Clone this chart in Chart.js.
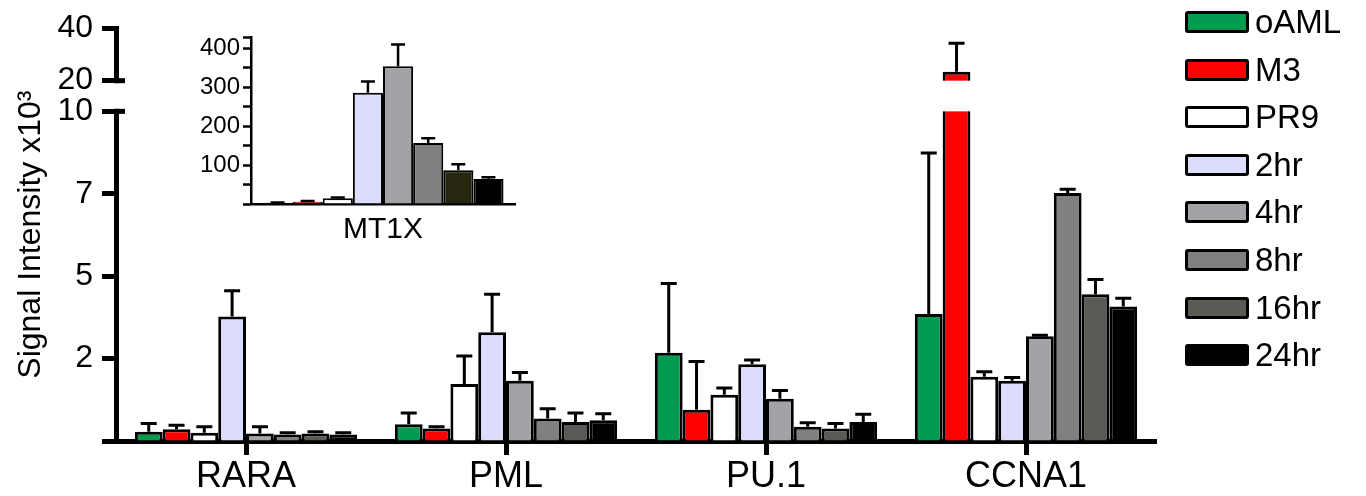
<!DOCTYPE html>
<html>
<head>
<meta charset="utf-8">
<script src="https://cdn.jsdelivr.net/npm/chart.js@4.4.1/dist/chart.umd.min.js"></script>
<style>
body { margin: 0; background: #fff; }
#wrap { position: relative; width: 1366px; height: 496px; overflow: hidden; }
#main { position: absolute; left: 0; top: 0; }
#inset { position: absolute; left: 180px; top: 20px; }
#legend { position: absolute; left: 1185px; top: 0; font-family: "Liberation Sans", Arial, sans-serif; font-size: 33px; color: #000; }
.item { position: absolute; left: 0; height: 44px; display: flex; align-items: center; white-space: nowrap; }
.box { display: inline-block; width: 58px; height: 16px; border: 3px solid #000; border-radius: 3px; margin-right: 6px; }
</style>
</head>
<body>
<div id="wrap">
  <canvas id="main" width="1366" height="496"></canvas>
  <canvas id="inset" width="345" height="240"></canvas>
  <div id="legend"></div>
</div>
<script>
var genes = ["RARA", "PML", "PU.1", "CCNA1"]
var series = ["oAML", "M3", "PR9", "2hr", "4hr", "8hr", "16hr", "24hr"]
var colors = ["#009b4e", "#ff0000", "#ffffff", "#dcdcfb", "#a3a3a7", "#808080", "#5a5b55", "#000000"]
var insetColors = ["#009b4e", "#ff0000", "#ffffff", "#dcdcfb", "#a3a3a7", "#808080", "#27260f", "#000000"]

// signal x10^3, one value per series (oAML .. 24hr)
var rara = [0.28, 0.36, 0.25, 3.78, 0.23, 0.2, 0.23, 0.2]
var rara_err = [0.25, 0.12, 0.18, 0.78, 0.2, 0.05, 0.05, 0.05]
var pml = [0.51, 0.38, 1.73, 3.3, 1.83, 0.68, 0.58, 0.63]
var pml_err = [0.34, 0.05, 0.85, 1.15, 0.25, 0.3, 0.27, 0.2]
var pu1 = [2.68, 0.95, 1.4, 2.33, 1.28, 0.43, 0.38, 0.58]
var pu1_err = [2.1, 1.46, 0.21, 0.13, 0.25, 0.12, 0.15, 0.23]
var ccna1 = [3.85, 23.4, 1.95, 1.83, 3.18, 7.52, 4.45, 4.08]
var ccna1_err = [4.89, 10.9, 0.15, 0.1, 0.03, 0.12, 0.45, 0.25]
// inset
var mt1x = [3, 6, 15, 286, 354, 157, 87, 64]
var mt1x_err = [1, 2, 2, 29, 56, 12, 15, 5]

var tickVals = [0, 2.5, 5, 7.5, 10, 20, 40]
var tickLabels = ["", "2", "5", "7", "10", "20", "40"]
var breakFrom = 10, breakTo = 20
var insetTicks = [0, 50, 100, 150, 200, 250, 300, 350, 400, 428]

var geneVals = [rara, pml, pu1, ccna1]
var geneErrs = [rara_err, pml_err, pu1_err, ccna1_err]

// linear axis with a gap between breakFrom and breakTo
class BrokenScale extends Chart.LinearScale {
  static id = 'broken'
  static defaults = Chart.LinearScale.defaults
  frac(v) {
    var lo = 333, gap = 31, hi = 53, all = lo + gap + hi
    if (v <= breakFrom) return v / breakFrom * lo / all
    if (v <= breakTo) return (lo + (v - breakFrom) / (breakTo - breakFrom) * gap) / all
    return (lo + gap + (v - breakTo) / (this.max - breakTo) * hi) / all
  }
  getPixelForValue(v) {
    return v == null ? NaN : this.getPixelForDecimal(this.frac(v))
  }
  buildTicks() {
    return tickVals.map(v => ({value: v}))
  }
}
Chart.register(BrokenScale)

var errorBars = {
  id: 'errorBars',
  afterDatasetsDraw(chart, args, opts) {
    var ctx = chart.ctx, y = chart.scales.y
    ctx.save()
    ctx.strokeStyle = '#000'
    ctx.lineWidth = opts.width
    chart.data.datasets.forEach((ds, i) => {
      chart.getDatasetMeta(i).data.forEach((bar, j) => {
        var top = y.getPixelForValue(ds.data[j] + ds.errors[j])
        ctx.beginPath()
        ctx.moveTo(bar.x, bar.y)
        ctx.lineTo(bar.x, top)
        ctx.moveTo(bar.x - opts.cap / 2, top)
        ctx.lineTo(bar.x + opts.cap / 2, top)
        ctx.stroke()
      })
    })
    ctx.restore()
  }
}

var axisBreak = {
  id: 'axisBreak',
  afterDatasetsDraw(chart) {
    var ctx = chart.ctx, y = chart.scales.y, ax = chart.chartArea.left
    var pLo = y.getPixelForValue(breakFrom), pHi = y.getPixelForValue(breakTo)
    ctx.save()
    ctx.fillStyle = '#fff'
    ctx.fillRect(ax - 6, pHi + 2.5, 12, pLo - pHi - 5)
    chart.data.datasets.forEach((ds, i) => {
      chart.getDatasetMeta(i).data.forEach((bar, j) => {
        if (ds.data[j] > breakTo) ctx.fillRect(bar.x - bar.width / 2 - 1, pHi, bar.width + 2, pLo - pHi)
      })
    })
    ctx.strokeStyle = '#000'
    ctx.lineWidth = 5
    ;[pLo, pHi].forEach(p => {
      ctx.beginPath()
      ctx.moveTo(ax - 2, p)
      ctx.lineTo(ax + 9, p)
      ctx.stroke()
    })
    ctx.restore()
  }
}

var font = "'Liberation Sans', Arial, sans-serif"

new Chart("main", {
  type: "bar",
  data: {
    labels: genes,
    datasets: series.map((s, i) => ({
      label: s,
      data: geneVals.map(g => g[i]),
      errors: geneErrs.map(g => g[i]),
      backgroundColor: colors[i],
      borderColor: "#000",
      borderWidth: 3,
      categoryPercentage: 0.855,
      barPercentage: 1
    }))
  },
  options: {
    responsive: false,
    animation: false,
    events: [],
    layout: {padding: {top: 24, right: 210, bottom: 0, left: 0}},
    plugins: {
      legend: {display: false},
      tooltip: {enabled: false},
      errorBars: {width: 3, cap: 16}
    },
    scales: {
      x: {
        grid: {offset: false, drawOnChartArea: false, tickLength: 14, tickWidth: 5, tickColor: "#000"},
        border: {color: "#000", width: 5},
        ticks: {color: "#000", font: {family: font, size: 36}, padding: 0},
        afterFit: s => { s.height = 55 }
      },
      y: {
        type: "broken",
        min: 0,
        max: 40,
        grid: {drawOnChartArea: false, tickLength: 14, tickWidth: 5, tickColor: "#000"},
        border: {color: "#000", width: 5},
        ticks: {
          color: "#000", font: {family: font, size: 32}, padding: 9, autoSkip: false,
          callback: v => tickLabels[tickVals.indexOf(v)]
        },
        title: {display: true, text: "Signal Intensity x10³", color: "#000", font: {family: font, size: 32}, padding: {top: 12, bottom: 0}},
        afterFit: s => { s.width = 116 }
      }
    }
  },
  plugins: [errorBars, axisBreak]
})

new Chart("inset", {
  type: "bar",
  data: {
    labels: ["MT1X"],
    datasets: series.map((s, i) => ({
      label: s,
      data: [mt1x[i]],
      errors: [mt1x_err[i]],
      backgroundColor: insetColors[i],
      borderColor: "#000",
      borderWidth: 2,
      categoryPercentage: 0.913,
      barPercentage: 1
    }))
  },
  options: {
    responsive: false,
    animation: false,
    events: [],
    layout: {padding: {top: 14, right: 10, bottom: 0, left: 0}},
    plugins: {
      legend: {display: false},
      tooltip: {enabled: false},
      errorBars: {width: 2.5, cap: 14}
    },
    scales: {
      x: {
        grid: {display: false},
        border: {color: "#000", width: 2.5},
        ticks: {color: "#000", font: {family: font, size: 30}, padding: 0},
        afterFit: s => { s.height = 56 }
      },
      y: {
        min: 0,
        max: insetTicks[insetTicks.length - 1],
        afterBuildTicks: s => { s.ticks = insetTicks.map(v => ({value: v})) },
        grid: {drawOnChartArea: false, tickLength: 8, tickWidth: 2.5, tickColor: "#000"},
        border: {color: "#000", width: 2.5},
        ticks: {
          color: "#000", font: {family: font, size: 24}, padding: 3, autoSkip: false,
          callback: v => (v > 0 && v % 100 == 0) ? v : ""
        },
        afterFit: s => { s.width = 71 }
      }
    }
  },
  plugins: [errorBars]
})

var legend = document.getElementById("legend")
series.forEach((s, i) => {
  var row = document.createElement("div")
  row.className = "item"
  row.style.top = (i * 47.6) + "px"
  row.innerHTML = '<span class="box" style="background:' + colors[i] + '"></span>' + s
  legend.appendChild(row)
})
</script>
</body>
</html>
